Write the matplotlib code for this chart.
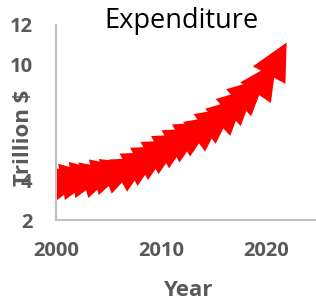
import matplotlib
matplotlib.use("Agg")
import matplotlib.pyplot as plt
from matplotlib.patches import FancyArrowPatch

years = [2000, 2001, 2002, 2003, 2004, 2005, 2006, 2007, 2008, 2009, 2010, 2011,
         2012, 2013, 2014, 2015, 2016, 2017, 2018, 2019, 2020, 2021, 2022]
spending = [4.0, 4.05, 4.1, 4.2, 4.3, 4.4, 4.55, 4.7, 4.9, 5.2, 5.5, 5.8,
            6.1, 6.4, 6.7, 7.0, 7.4, 7.8, 8.3, 8.8, 9.3, 10.1, 11.1]
xticks = [2000, 2010, 2020]
yticks = [2, 4, 6, 8, 10, 12]
ytick_labels = ["2", "4", "", "", "10", "12"]

gray = "#595959"
font = "Open Sans"

fig = plt.figure(figsize=(3.16, 3.0), dpi=100)
ax = fig.add_axes([56/316, 80/300, 260/316, 195/300])

for i in range(len(years) - 1):
    arr = FancyArrowPatch((years[i], spending[i]), (years[i+1], spending[i+1]),
                          arrowstyle="simple,head_length=26.6,head_width=26.6,tail_width=5.3",
                          mutation_scale=1, color="#ff0000", lw=0,
                          shrinkA=0, shrinkB=0)
    ax.add_patch(arr)

ax.set_xlim(2000, 2024.8)
ax.set_ylim(2, 12)
ax.set_xticks(xticks)
ax.set_xticklabels([str(t) for t in xticks])
ax.set_yticks(yticks)
ax.set_yticklabels(ytick_labels)
ax.tick_params(length=0)
ax.tick_params(axis="x", pad=15)
ax.tick_params(axis="y", pad=17)
for lab in ax.xaxis.get_majorticklabels() + ax.yaxis.get_majorticklabels():
    lab.set_fontfamily(font)
    lab.set_fontweight("bold")
    lab.set_fontsize(14.5)
    lab.set_color(gray)

for s in ["top", "right"]:
    ax.spines[s].set_visible(False)
for s in ["left", "bottom"]:
    ax.spines[s].set_color("#c0c0c0")
    ax.spines[s].set_linewidth(1.5)

ax.set_xlabel("Year", fontsize=16, fontweight="bold", color=gray, family=font)
ax.xaxis.set_label_coords(0.508, -0.31)
ax.set_ylabel("Trillion $", fontsize=16, fontweight="bold", color=gray, family=font)
ax.yaxis.set_label_coords(-0.085, 0.42)

fig.text(181/316, 1 - 21/300, "Expenditure", fontsize=19.5, family=font,
         ha="center", va="center", color="black")

fig.savefig("out.png", dpi=100)
